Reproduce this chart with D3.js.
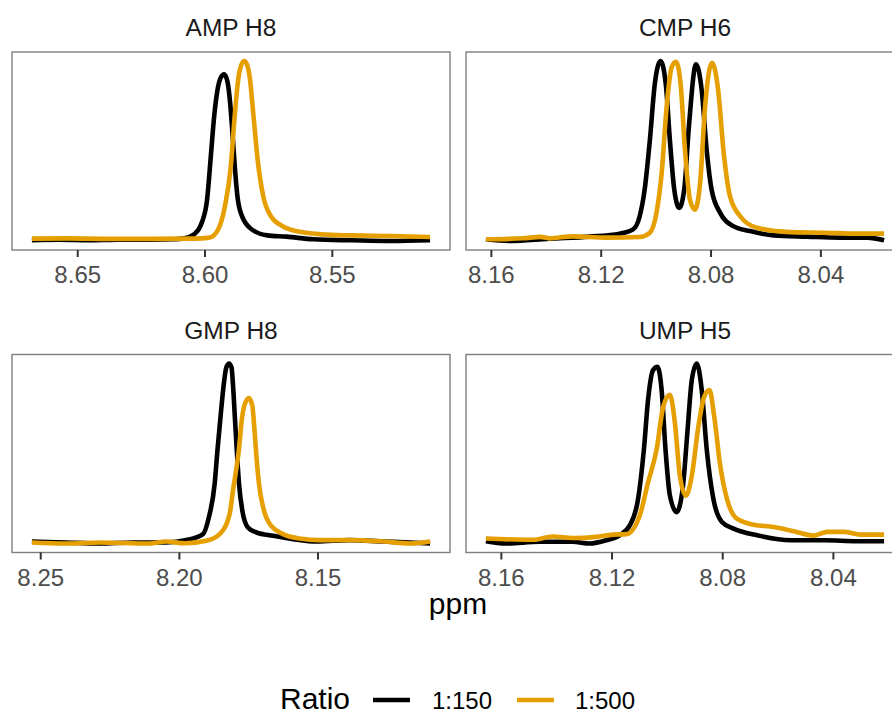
<!DOCTYPE html>
<html>
<head>
<meta charset="utf-8">
<script src="https://cdn.jsdelivr.net/npm/d3@7"></script>
<style>
  html, body { margin: 0; padding: 0; background: #ffffff; }
  svg { display: block; overflow: hidden; }
  text { font-family: "Liberation Sans", Arial, Helvetica, sans-serif; }
</style>
</head>
<body>
<div id="chart"></div>
<script>
// ---------------- DATA ----------------
const panelTitles = ["AMP H8", "CMP H6", "GMP H8", "UMP H5"];
const ratioLabels = ["1:150", "1:500"];
const ratioColors = ["#000000", "#E69F00"];

const ampTicks = [8.65, 8.60, 8.55];
const cmpTicks = [8.16, 8.12, 8.08, 8.04];
const gmpTicks = [8.25, 8.20, 8.15];
const umpTicks = [8.16, 8.12, 8.08, 8.04];

// [ppm, intensity (a.u.)]
const amp150 = [[8.6678,9],[8.6571,9.5],[8.6453,9],[8.6335,9.5],[8.6217,9.5],[8.6118,10],[8.6079,11],[8.6041,15],[8.6011,26.7],[8.5990,50],[8.5975,95],[8.5962,135],[8.5950,160],[8.5936,174],[8.5923,177.3],[8.5910,170],[8.5900,150],[8.5890,116.7],[8.5880,80],[8.5870,52],[8.5852,33],[8.5814,20],[8.5754,14],[8.5678,12.7],[8.5572,10],[8.5421,9],[8.5270,8.3],[8.5114,9]];
const amp500 = [[8.6678,10.7],[8.6531,11],[8.6374,10.5],[8.6217,10.5],[8.6041,10.7],[8.5981,11.7],[8.5950,18.3],[8.5920,43.3],[8.5897,83.3],[8.5882,133.3],[8.5867,173.3],[8.5855,187],[8.5844,190.7],[8.5833,187],[8.5822,173.3],[8.5807,133.3],[8.5791,90],[8.5769,53.3],[8.5739,33.3],[8.5693,23.3],[8.5618,17.3],[8.5542,15],[8.5421,14],[8.5270,13.3],[8.5114,12.3]];

const cmp150 = [[8.1618,10],[8.1533,8.3],[8.1387,10.7],[8.1241,12.7],[8.1131,15.7],[8.1082,20],[8.1058,33.3],[8.1040,60],[8.1021,110],[8.1003,166.7],[8.0982,190],[8.0963,166.7],[8.0948,110],[8.0932,60],[8.0914,41.7],[8.0896,60],[8.0878,126.7],[8.0853,186.7],[8.0832,160],[8.0814,100],[8.0796,60],[8.0765,36.7],[8.0717,23.3],[8.0656,18.3],[8.0570,14],[8.0448,12.7],[8.0327,11.7],[8.0229,11.7],[8.0168,9]];
const cmp500 = [[8.1618,10],[8.1484,11],[8.1420,12.5],[8.1387,11],[8.1302,13],[8.1180,11.7],[8.1058,12.3],[8.1021,16.7],[8.0997,36.7],[8.0978,76.7],[8.0960,143.3],[8.0942,183.3],[8.0926,189.3],[8.0909,166.7],[8.0893,100],[8.0875,50],[8.0857,40],[8.0838,66.7],[8.0820,143.3],[8.0795,188.3],[8.0772,160],[8.0753,100],[8.0729,53.3],[8.0692,33.3],[8.0631,21.7],[8.0509,17.3],[8.0388,16.7],[8.0266,15.7],[8.0168,15.7]];

const gmp150 = [[8.2530,11.3],[8.2407,10.3],[8.2287,9.3],[8.2166,10.3],[8.2046,10.3],[8.1973,12.7],[8.1913,18.7],[8.1892,35.3],[8.1871,68.7],[8.1861,102],[8.1850,135.3],[8.1838,168.7],[8.1829,185.3],[8.1819,189.3],[8.1810,185.3],[8.1805,168.7],[8.1798,135.3],[8.1791,102],[8.1783,68.7],[8.1771,42],[8.1751,25.3],[8.1720,20.3],[8.1660,17],[8.1588,13.7],[8.1503,11.3],[8.1383,12.7],[8.1263,11.3],[8.1166,10.3],[8.1094,9.3]];
const gmp500 = [[8.2530,10.3],[8.2407,9.3],[8.2287,10.3],[8.2106,9.3],[8.2046,11.3],[8.1979,9.5],[8.1901,12],[8.1853,18.7],[8.1817,38.7],[8.1805,62],[8.1784,102],[8.1772,135.3],[8.1760,150.3],[8.1747,154.7],[8.1735,147],[8.1728,125.3],[8.1720,95.3],[8.1711,68.7],[8.1696,45.3],[8.1672,28.7],[8.1624,18.7],[8.1564,14.3],[8.1491,12.7],[8.1383,12.7],[8.1263,11.3],[8.1166,9.3],[8.1094,11.3]];

const ump150 = [[8.1654,9.3],[8.1582,7],[8.1461,8.7],[8.1340,8.7],[8.1279,7],[8.1219,10.3],[8.1171,15.3],[8.1134,25.3],[8.1104,52],[8.1083,102],[8.1068,152],[8.1050,182],[8.1034,185.3],[8.1019,162],[8.1005,102],[8.0989,55.3],[8.0965,38.7],[8.0943,62],[8.0926,118.7],[8.0910,172],[8.0892,188.7],[8.0874,162],[8.0856,102],[8.0832,52],[8.0801,28.7],[8.0759,22],[8.0674,15.3],[8.0553,10.3],[8.0433,10.3],[8.0311,9.3],[8.0215,9.3]];
const ump500 = [[8.1654,12],[8.1582,11.3],[8.1485,10.8],[8.1413,14],[8.1340,12.5],[8.1255,13.7],[8.1195,16],[8.1146,16.5],[8.1098,35.3],[8.1068,68.7],[8.1037,102],[8.1013,145.3],[8.0989,157],[8.0971,128.7],[8.0953,75.3],[8.0931,55.3],[8.0910,75.3],[8.0886,125.3],[8.0865,155.3],[8.0846,162],[8.0829,135.3],[8.0807,85.3],[8.0783,52],[8.0747,32],[8.0687,26],[8.0614,23.7],[8.0541,19.3],[8.0469,15],[8.0420,18.7],[8.0360,18.7],[8.0299,16],[8.0215,16]];

const panelSeries = [[amp150, amp500], [cmp150, cmp500], [gmp150, gmp500], [ump150, ump500]];
const panelTicks = [ampTicks, cmpTicks, gmpTicks, umpTicks];

// ---------------- LAYOUT ----------------
const W = 892, H = 713;
const colX = [12, 466];
const rowY = [52, 354.5];
const pw = 438, ph = 198;

const svg = d3.select("#chart").append("svg")
  .attr("width", W).attr("height", H)
  .attr("viewBox", `0 0 ${W} ${H}`);

svg.append("rect").attr("width", W).attr("height", H).attr("fill", "#ffffff");

panelTitles.forEach((title, i) => {
  const x0 = colX[i % 2], y0 = rowY[Math.floor(i / 2)];
  const series = panelSeries[i];
  const all = series.flat();
  const [xmin, xmax] = d3.extent(all, d => d[0]);
  const [ymin, ymax] = d3.extent(all, d => d[1]);
  const xp = (xmax - xmin) * 0.05, yp = (ymax - ymin) * 0.05;

  const x = d3.scaleLinear().domain([xmax + xp, xmin - xp]).range([x0, x0 + pw]);
  const y = d3.scaleLinear().domain([ymin - yp, ymax + yp]).range([y0 + ph, y0]);

  const g = svg.append("g");

  // strip title
  g.append("text")
    .attr("x", x0 + pw / 2).attr("y", y0 - 16)
    .attr("text-anchor", "middle")
    .attr("font-size", 24.5).attr("fill", "#1a1a1a")
    .text(title);

  const clipId = "clip" + i;
  svg.append("clipPath").attr("id", clipId)
    .append("rect").attr("x", x0).attr("y", y0).attr("width", pw).attr("height", ph);

  const line = d3.line()
    .x(d => x(d[0])).y(d => y(d[1]))
    .curve(d3.curveMonotoneX);

  series.forEach((s, k) => {
    g.append("path")
      .datum(s.slice().sort((a, b) => b[0] - a[0]))
      .attr("clip-path", `url(#${clipId})`)
      .attr("d", line)
      .attr("fill", "none")
      .attr("stroke", ratioColors[k])
      .attr("stroke-width", 4.6)
      .attr("stroke-linejoin", "round")
      .attr("stroke-linecap", "butt");
  });

  g.append("rect")
    .attr("x", x0).attr("y", y0).attr("width", pw).attr("height", ph)
    .attr("fill", "none").attr("stroke", "#7f7f7f").attr("stroke-width", 1.4);

  const ax = g.append("g")
    .attr("transform", `translate(0,${y0 + ph})`)
    .call(d3.axisBottom(x).tickValues(panelTicks[i]).tickFormat(d3.format(".2f")).tickSize(7));
  ax.select(".domain").remove();
  ax.selectAll(".tick line").attr("stroke", "#333333").attr("stroke-width", 2);
  ax.selectAll(".tick text")
    .attr("y", 33).attr("dy", null)
    .attr("font-size", 24).attr("fill", "#4d4d4d")
    .attr("font-family", "Liberation Sans, Arial, sans-serif");
});

// x axis title
svg.append("text")
  .attr("x", 458).attr("y", 614)
  .attr("text-anchor", "middle")
  .attr("font-size", 30).attr("fill", "#000000")
  .text("ppm");

// legend
const leg = svg.append("g");
leg.append("text").attr("x", 280).attr("y", 709).attr("font-size", 30).attr("fill", "#000").text("Ratio");
const keyX = [373, 517], labX = [432, 575];
ratioLabels.forEach((lab, k) => {
  leg.append("line")
    .attr("x1", keyX[k]).attr("x2", keyX[k] + 37)
    .attr("y1", 700).attr("y2", 700)
    .attr("stroke", ratioColors[k]).attr("stroke-width", 4.6);
  leg.append("text").attr("x", labX[k]).attr("y", 709)
    .attr("font-size", 24).attr("fill", "#000").text(lab);
});
</script>
</body>
</html>
